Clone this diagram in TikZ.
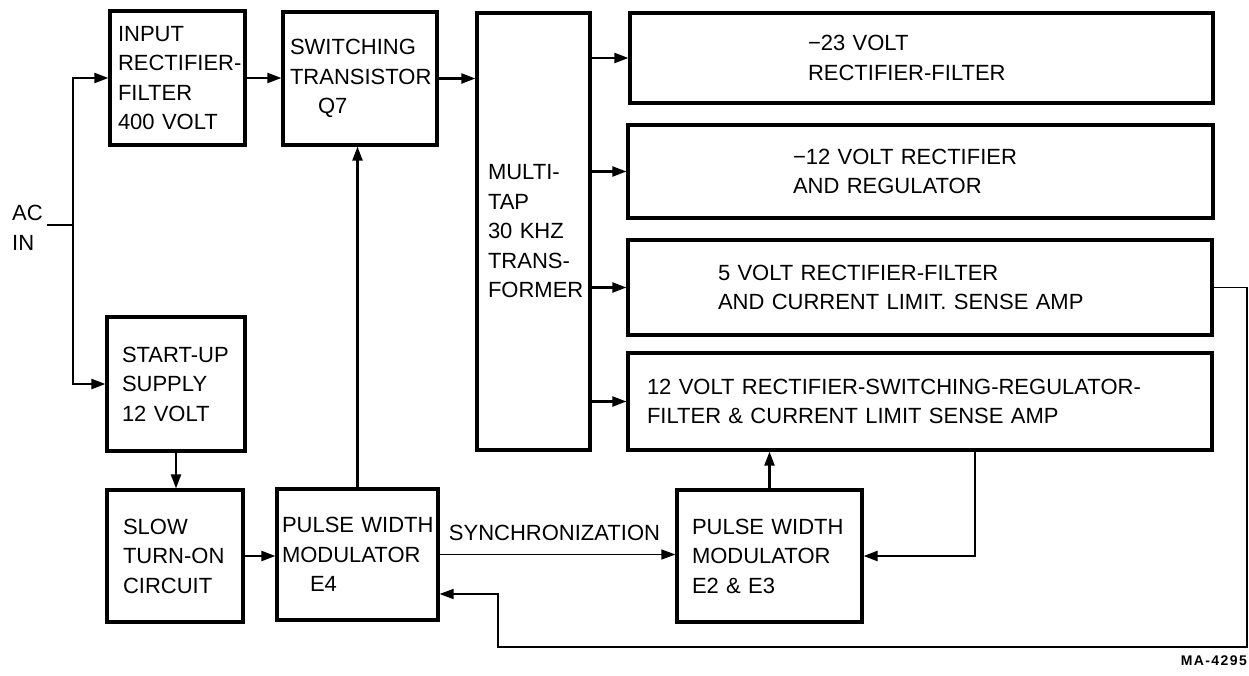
\documentclass[tikz,border=0pt]{standalone}
\usepackage{fontspec}
\setmainfont{Liberation Sans}
\usetikzlibrary{arrows.meta}
\tikzset{
  blk/.style={draw, line width=3.2pt, rectangle, inner sep=0pt, align=left, font=\fontsize{22}{29.5}\selectfont},
  lbl/.style={inner sep=0pt, font=\fontsize{22}{29.5}\selectfont},
  wire/.style={line width=2.2pt},
  arr/.style={wire, -{Triangle[length=14pt,width=10pt]}},
  syncarr/.style={line width=1.3pt, -{Triangle[length=14pt,width=10pt]}},
  fbarr/.style={line width=1.6pt, -{Triangle[length=14pt,width=10pt]}},
}
\begin{document}
\begin{tikzpicture}[x=1pt,y=-1pt]
\useasboundingbox (0,0) rectangle (1249,675);
% boxes
\node[blk, minimum width=135pt, minimum height=134pt, text width=119pt] (inp) at (177.5,78) {\mbox{INPUT}\\\mbox{RECTIFIER-}\\\mbox{FILTER}\\\mbox{400~VOLT}};
\node[blk, minimum width=154pt, minimum height=133pt, text width=140pt] (sw) at (360,78.5) {\mbox{SWITCHING}\\\mbox{TRANSISTOR}\\\hspace*{28pt}Q7};
\node[blk, minimum width=113pt, minimum height=437pt, text width=91pt] (mt) at (533.5,231.5) {\mbox{MULTI-}\\TAP\\\mbox{30~KHZ}\\\mbox{TRANS-}\\\mbox{FORMER}};
\node[blk, minimum width=583pt, minimum height=90pt, text width=227pt] (m23) at (921.5,58) {\mbox{−23~VOLT}\\\mbox{RECTIFIER-FILTER}};
\node[blk, minimum width=585pt, minimum height=93pt, text width=255pt] (m12) at (920.5,171.5) {\mbox{−12~VOLT~RECTIFIER}\\\mbox{AND~REGULATOR}};
\node[blk, minimum width=584pt, minimum height=95pt, text width=404pt] (v5) at (920,287.5) {\mbox{5~VOLT~RECTIFIER-FILTER}\\\mbox{AND~CURRENT~LIMIT.~SENSE~AMP}};
\node[blk, minimum width=584pt, minimum height=97pt, text width=546pt] (v12) at (920,401.5) {\mbox{12~VOLT~RECTIFIER-SWITCHING-REGULATOR-}\\\mbox{FILTER~\&~CURRENT~LIMIT~SENSE~AMP}};
\node[blk, minimum width=138pt, minimum height=134pt, text width=108pt] (su) at (176,384) {\mbox{START-UP}\\SUPPLY\\\mbox{12~VOLT}};
\node[blk, minimum width=136pt, minimum height=132pt, text width=104pt] (slow) at (175,556) {\raisebox{-5pt}{SLOW}\\\raisebox{-5pt}{\mbox{TURN-ON}}\\\raisebox{-5pt}{CIRCUIT}};
\node[blk, minimum width=161pt, minimum height=131pt, text width=151pt] (pwm4) at (357.5,554.5) {\mbox{PULSE~WIDTH}\\\mbox{MODULATOR}\\\hspace*{28pt}E4};
\node[blk, minimum width=185pt, minimum height=132pt, text width=155pt] (pwm23) at (769.5,556) {\mbox{PULSE~WIDTH}\\\mbox{MODULATOR}\\\mbox{E2~\&~E3}};
% labels
\node[lbl, align=left, anchor=west] (acin) at (12,228) {AC\\IN};
\node[lbl, anchor=base] (sync) at (554.5,540) {SYNCHRONIZATION};
\node[inner sep=0pt, anchor=base east, font=\fontsize{14}{16}\bfseries\selectfont\addfontfeature{LetterSpace=10}] (ma) at (1247,665) {MA-4295};
% junctions
\coordinate (acj) at (73,225);
\coordinate (fb12) at (975,557);
\coordinate (r1) at (1247,647);
\coordinate (r2) at (498,594);
% connectors
\draw[wire] (acin.east |- acj) ++(4pt,0) -- (acj);
\draw[arr] (acj) |- (inp.west);
\draw[arr] (acj) |- (su.west);
\draw[arr] (inp.east) -- (inp.east -| sw.west);
\draw[arr] (sw.east) -- (sw.east -| mt.west);
\draw[arr] (m23.west -| mt.east) -- (m23.west);
\draw[arr] (m12.west -| mt.east) -- (m12.west);
\draw[arr] (v5.west -| mt.east) -- (v5.west);
\draw[arr] (v12.west -| mt.east) -- (v12.west);
\draw[arr] (su.south) -- (su.south |- slow.north);
\draw[arr] (slow.east) -- (slow.east -| pwm4.west);
\draw[arr] (pwm4.north) -- (pwm4.north |- sw.south);
\draw[syncarr] (pwm4.east) -- (pwm4.east -| pwm23.west);
\draw[arr] (pwm23.north) -- (pwm23.north |- v12.south);
\draw[arr] (v12.south -| fb12) |- (pwm23.east);
\draw[fbarr] (v5.east) -| (r1) -| (r2) -- (r2 -| pwm4.east);
\end{tikzpicture}
\end{document}
